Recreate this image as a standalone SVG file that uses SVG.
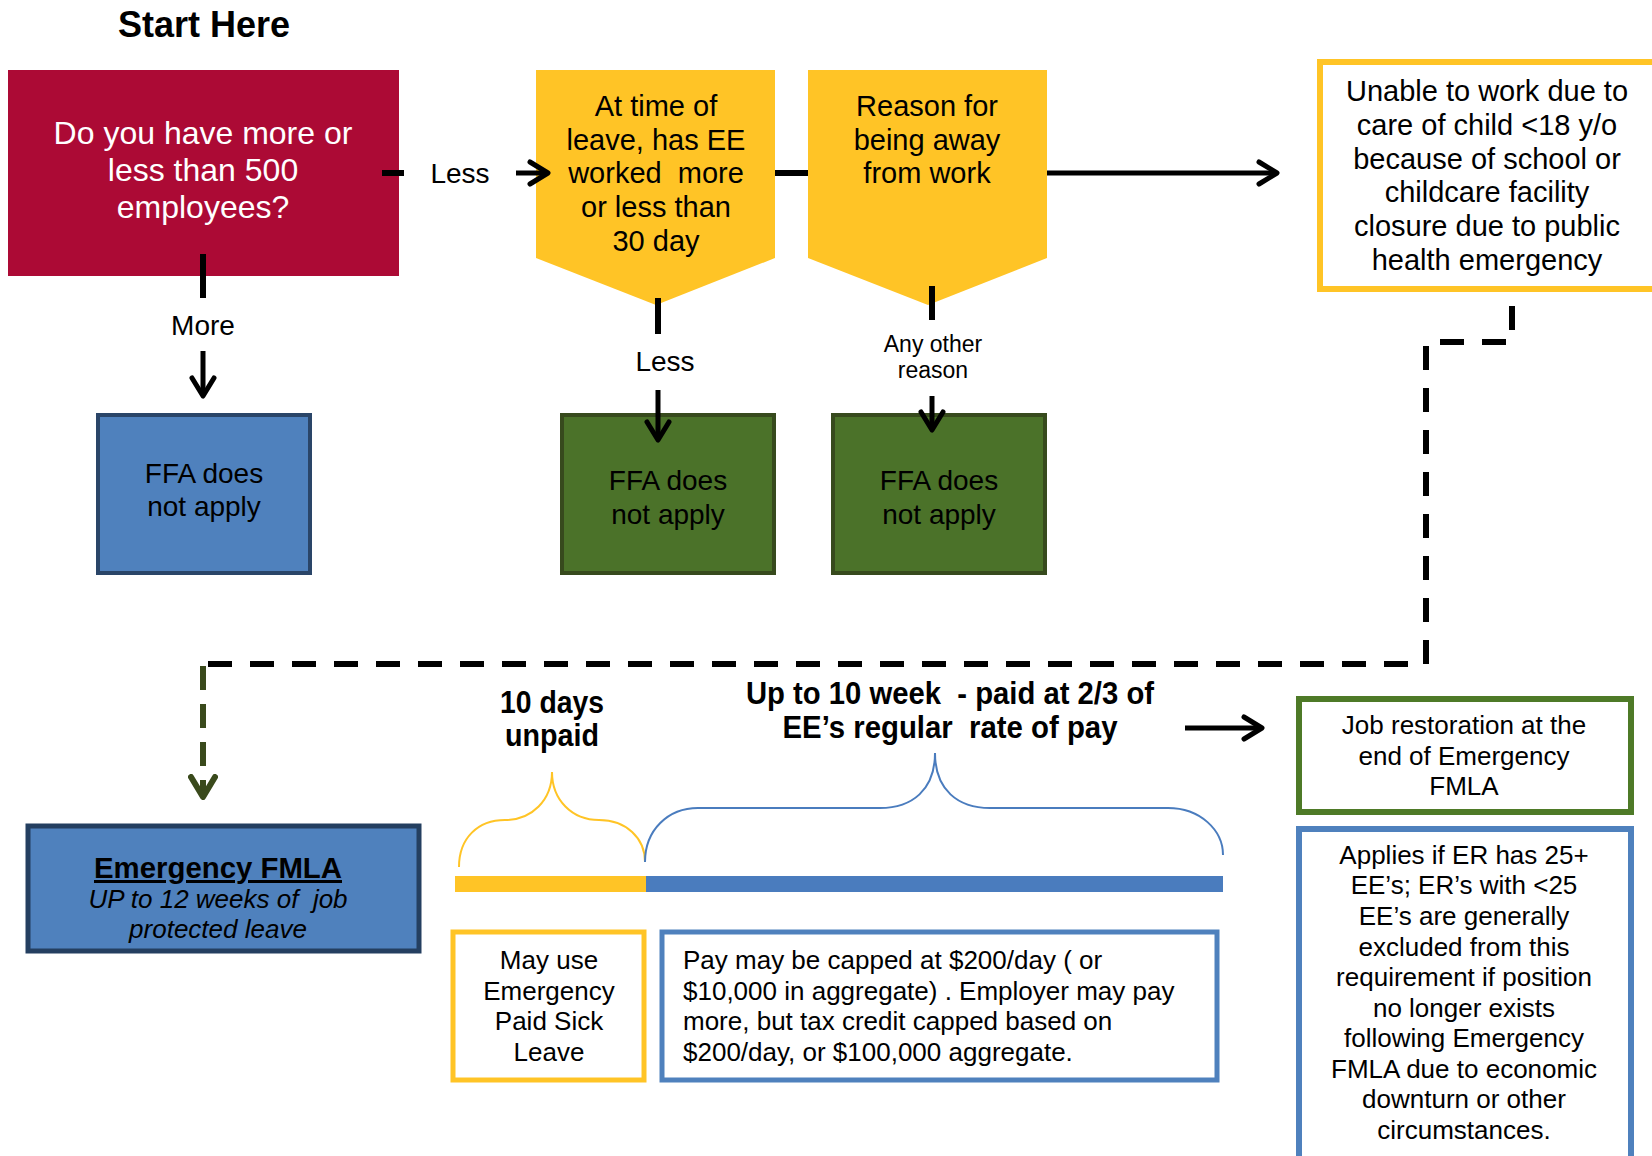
<svg xmlns="http://www.w3.org/2000/svg" width="1652" height="1156" viewBox="0 0 1652 1156">
<defs>
<style>
text{font-family:"Liberation Sans",Arial,sans-serif;fill:#000}
.c{text-anchor:middle}
.w{fill:#fff}
.b{font-weight:bold}
.f28{font-size:28px}
.f29{font-size:29px}
.f26{font-size:26px}
.ln{stroke:#000;stroke-width:6;fill:none}
.ar{stroke:#000;stroke-width:5;fill:none}
.dash{stroke:#000;stroke-width:6;fill:none;stroke-dasharray:24 18}
</style>
<marker id="ah" viewBox="0 0 24 28" markerWidth="24" markerHeight="28" refX="21" refY="14" orient="auto" markerUnits="userSpaceOnUse">
<path d="M3,3 L21,14 L3,25" fill="none" stroke="#000" stroke-width="5" stroke-linecap="round" stroke-linejoin="round"/>
</marker>
<marker id="ahg" viewBox="0 0 26 30" markerWidth="26" markerHeight="30" refX="23" refY="15" orient="auto" markerUnits="userSpaceOnUse">
<path d="M3,3 L23,15 L3,27" fill="none" stroke="#3A4A1C" stroke-width="6" stroke-linecap="round" stroke-linejoin="round"/>
</marker>
</defs>
<rect width="1652" height="1156" fill="#fff"/>

<text id="title" x="204" y="37" class="c b" font-size="36">Start Here</text>

<g id="q-employees">
<rect x="8" y="70" width="391" height="206" fill="#AC0A35"/>
<text class="c w" font-size="32" x="203"><tspan x="203" y="144">Do you have more or</tspan><tspan x="203" y="181">less than 500</tspan><tspan x="203" y="218">employees?</tspan></text>
</g>

<g id="ffa-blue">
<rect x="98" y="415" width="212" height="158" fill="#4F81BD" stroke="#2A4568" stroke-width="4"/>
<text class="c f28"><tspan x="204" y="483">FFA does</tspan><tspan x="204" y="516">not apply</tspan></text>
</g>

<g id="q-30days">
<polygon points="536,70 775,70 775,258 656,305 536,258" fill="#FFC426"/>
<text class="c f29" xml:space="preserve"><tspan x="656" y="116">At time of</tspan><tspan x="656" y="150">leave, has EE</tspan><tspan x="656" y="183">worked  more</tspan><tspan x="656" y="217">or less than</tspan><tspan x="656" y="251">30 day</tspan></text>
</g>

<g id="q-reason">
<polygon points="808,70 1047,70 1047,258 928,305 808,258" fill="#FFC426"/>
<text class="c f29"><tspan x="927" y="116">Reason for</tspan><tspan x="927" y="150">being away</tspan><tspan x="927" y="183">from work</tspan></text>
</g>

<g id="ffa-green-1">
<rect x="562" y="415" width="212" height="158" fill="#4B7229" stroke="#374A1D" stroke-width="4"/>
<text class="c f28"><tspan x="668" y="490">FFA does</tspan><tspan x="668" y="524">not apply</tspan></text>
</g>

<g id="ffa-green-2">
<rect x="833" y="415" width="212" height="158" fill="#4B7229" stroke="#374A1D" stroke-width="4"/>
<text class="c f28"><tspan x="939" y="490">FFA does</tspan><tspan x="939" y="524">not apply</tspan></text>
</g>

<g id="childcare">
<rect x="1320" y="62" width="345" height="227" fill="#fff" stroke="#FFC426" stroke-width="6"/>
<text class="c f29"><tspan x="1487" y="101">Unable to work due to</tspan><tspan x="1487" y="135">care of child &lt;18 y/o</tspan><tspan x="1487" y="169">because of school or</tspan><tspan x="1487" y="202">childcare facility</tspan><tspan x="1487" y="236">closure due to public</tspan><tspan x="1487" y="270">health emergency</tspan></text>
</g>

<g id="emergency-fmla">
<rect x="28" y="826" width="391" height="125" fill="#4F81BD" stroke="#243F60" stroke-width="5"/>
<text class="c b" font-size="30" x="218" y="878" text-decoration="underline" textLength="248" lengthAdjust="spacingAndGlyphs">Emergency FMLA</text>
<text class="c" font-size="26" font-style="italic" xml:space="preserve"><tspan x="218" y="908">UP to 12 weeks of  job</tspan><tspan x="218" y="938">protected leave</tspan></text>
</g>

<g id="timeline">
<text class="c b" font-size="31"><tspan x="552" y="713" textLength="104" lengthAdjust="spacingAndGlyphs">10 days</tspan><tspan x="552" y="746" textLength="94" lengthAdjust="spacingAndGlyphs">unpaid</tspan></text>
<text class="c b" font-size="31" xml:space="preserve"><tspan x="950" y="704" textLength="408" lengthAdjust="spacingAndGlyphs">Up to 10 week  - paid at 2/3 of</tspan><tspan x="950" y="738" textLength="335" lengthAdjust="spacingAndGlyphs">EE’s regular  rate of pay</tspan></text>
<path d="M459,867 C459,838 478,820 505,820 C532,820 552,800 552,772 C552,800 572,820 599,820 C626,820 645,838 645,862" fill="none" stroke="#FFC426" stroke-width="2"/>
<path d="M645,862 C645,830 668,808 698,808 L880,808 C912,808 935,790 935,753 C935,790 958,808 990,808 L1168,808 C1200,808 1223,830 1223,855" fill="none" stroke="#4A7CBE" stroke-width="2"/>
<rect x="455" y="876" width="191" height="16" fill="#FFC426"/>
<rect x="646" y="876" width="577" height="16" fill="#4A7CBE"/>
</g>

<g id="paid-sick">
<rect x="453" y="932" width="191" height="148" fill="#fff" stroke="#FFC426" stroke-width="5"/>
<text class="c f26"><tspan x="549" y="969">May use</tspan><tspan x="549" y="1000">Emergency</tspan><tspan x="549" y="1030">Paid Sick</tspan><tspan x="549" y="1061">Leave</tspan></text>
</g>

<g id="pay-cap">
<rect x="662" y="932" width="555" height="148" fill="#fff" stroke="#4F81BD" stroke-width="5"/>
<text class="f26"><tspan x="683" y="969">Pay may be capped at $200/day ( or</tspan><tspan x="683" y="1000">$10,000 in aggregate) . Employer may pay</tspan><tspan x="683" y="1030">more, but tax credit capped based on</tspan><tspan x="683" y="1061">$200/day, or $100,000 aggregate.</tspan></text>
</g>

<g id="job-restoration">
<rect x="1299" y="699" width="332" height="113" fill="#fff" stroke="#4E7A27" stroke-width="6"/>
<text class="c f26"><tspan x="1464" y="734">Job restoration at the</tspan><tspan x="1464" y="765">end of Emergency</tspan><tspan x="1464" y="795">FMLA</tspan></text>
</g>

<g id="applies">
<rect x="1299" y="829" width="332" height="340" fill="#fff" stroke="#4F81BD" stroke-width="6"/>
<text class="c f26"><tspan x="1464" y="864">Applies if ER has 25+</tspan><tspan x="1464" y="894">EE’s; ER’s with &lt;25</tspan><tspan x="1464" y="925">EE’s are generally</tspan><tspan x="1464" y="956">excluded from this</tspan><tspan x="1464" y="986">requirement if position</tspan><tspan x="1464" y="1017">no longer exists</tspan><tspan x="1464" y="1047">following Emergency</tspan><tspan x="1464" y="1078">FMLA due to economic</tspan><tspan x="1464" y="1108">downturn or other</tspan><tspan x="1464" y="1139">circumstances.</tspan></text>
</g>

<g id="connectors">
<line class="ln" x1="382" y1="173" x2="404" y2="173"/>
<text class="c f28" x="460" y="183">Less</text>
<line class="ar" x1="516" y1="173" x2="548" y2="173" marker-end="url(#ah)"/>
<line class="ln" x1="203" y1="254" x2="203" y2="298"/>
<text class="c f28" x="203" y="335">More</text>
<line class="ar" x1="203" y1="351" x2="203" y2="396" marker-end="url(#ah)"/>
<line class="ln" x1="775" y1="173" x2="808" y2="173"/>
<line class="ar" x1="1047" y1="173" x2="1277" y2="173" marker-end="url(#ah)"/>
<line class="ln" x1="658" y1="298" x2="658" y2="334"/>
<text class="c f28" x="665" y="371">Less</text>
<line class="ar" x1="658" y1="390" x2="658" y2="440" marker-end="url(#ah)"/>
<line class="ln" x1="932" y1="286" x2="932" y2="320"/>
<text class="c" font-size="23"><tspan x="933" y="352">Any other</tspan><tspan x="933" y="378">reason</tspan></text>
<line class="ar" x1="932" y1="396" x2="932" y2="430" marker-end="url(#ah)"/>
<path class="dash" d="M1512,306 L1512,342 L1426,342 L1426,664 L208,664"/>
<path d="M203,666 L203,797" fill="none" stroke="#3A4A1C" stroke-width="6" stroke-dasharray="24 14" marker-end="url(#ahg)"/>
<line class="ar" x1="1185" y1="728" x2="1262" y2="728" marker-end="url(#ah)"/>
</g>
</svg>
